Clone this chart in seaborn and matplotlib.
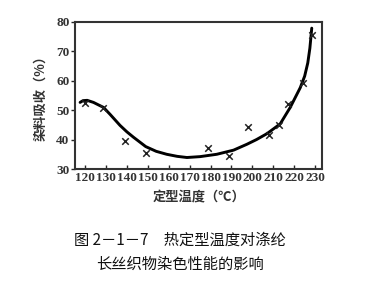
import matplotlib
matplotlib.use("Agg")
import matplotlib.pyplot as plt
import seaborn as sns
import pandas as pd

# measured points (crosses)
pt_temp = [120, 128.5, 139, 149, 179, 189, 198, 208, 212.5, 217, 224, 228.3]
pt_abs = [52.3, 50.6, 39.6, 35.4, 37.0, 34.4, 44.3, 41.7, 44.9, 52.0, 59.2, 75.6]

# fitted curve
curve_temp = [117.6, 119, 121, 124, 128.8, 132, 136.7, 140, 143.1, 149, 154, 159, 164,
              168.7, 175, 183, 191, 197.4, 202, 207, 213.3, 218.1, 222.9, 225, 226.5, 227.5, 228.4]
curve_abs = [52.6, 53.2, 53.3, 52.6, 50.9, 48.5, 44.8, 42.6, 40.8, 37.6, 36.0, 35.0, 34.3,
             33.9, 34.2, 35.0, 36.4, 38.4, 40.0, 42.0, 45.3, 50.9, 57.6, 61.5, 66.0, 71.0, 77.8]

xticks = [120, 130, 140, 150, 160, 170, 180, 190, 200, 210, 220, 230]
yticks = [30, 40, 50, 60, 70, 80]

sns.set_theme(style="white")
plt.rcParams['font.family'] = ['Noto Sans CJK SC', 'DejaVu Sans']

fig = plt.figure(figsize=(3.68, 2.85), dpi=100)
ax = fig.add_axes([0.204, 0.407, 0.671, 0.517])

curve = pd.DataFrame({"t": curve_temp, "a": curve_abs})
pts = pd.DataFrame({"t": pt_temp, "a": pt_abs})
sns.lineplot(data=curve, x="t", y="a", ax=ax, color="black", lw=2.1, sort=False)
sns.scatterplot(data=pts, x="t", y="a", ax=ax, marker="x", color="#222222", s=22,
                linewidth=1.1, zorder=3)

ax.set_xlim(115.2, 233.3)
ax.set_ylim(30, 80)
ax.set_xticks(xticks)
ax.set_yticks(yticks)
ax.set_xticklabels([str(v) for v in xticks], fontfamily="Liberation Serif",
                   fontsize=9.5, fontweight="bold", color="#333333")
ax.set_yticklabels([str(v) for v in yticks], fontfamily="Liberation Serif",
                   fontsize=9.5, fontweight="bold", color="#333333")
ax.tick_params(axis="x", direction="in", length=3, width=1, pad=2, bottom=True)
ax.tick_params(axis="y", direction="out", length=3, width=1, pad=1, left=True)
for s in ax.spines.values():
    s.set_color("#333333")
    s.set_linewidth(1.5)

ax.set_xlabel("定型温度（℃）", fontsize=9.5, fontweight="bold", color="#333333", labelpad=5)
ax.set_ylabel("染料吸收（%）", fontsize=9.5, fontweight="bold", color="#333333", labelpad=6)

fig.text(0.49, 0.158, "图 2－1－7　热定型温度对涤纶", ha="center", va="center",
         fontsize=11, color="#111111")
fig.text(0.49, 0.072, "长丝织物染色性能的影响", ha="center", va="center",
         fontsize=11, color="#111111")

fig.savefig("out.png", dpi=100, facecolor="white")
